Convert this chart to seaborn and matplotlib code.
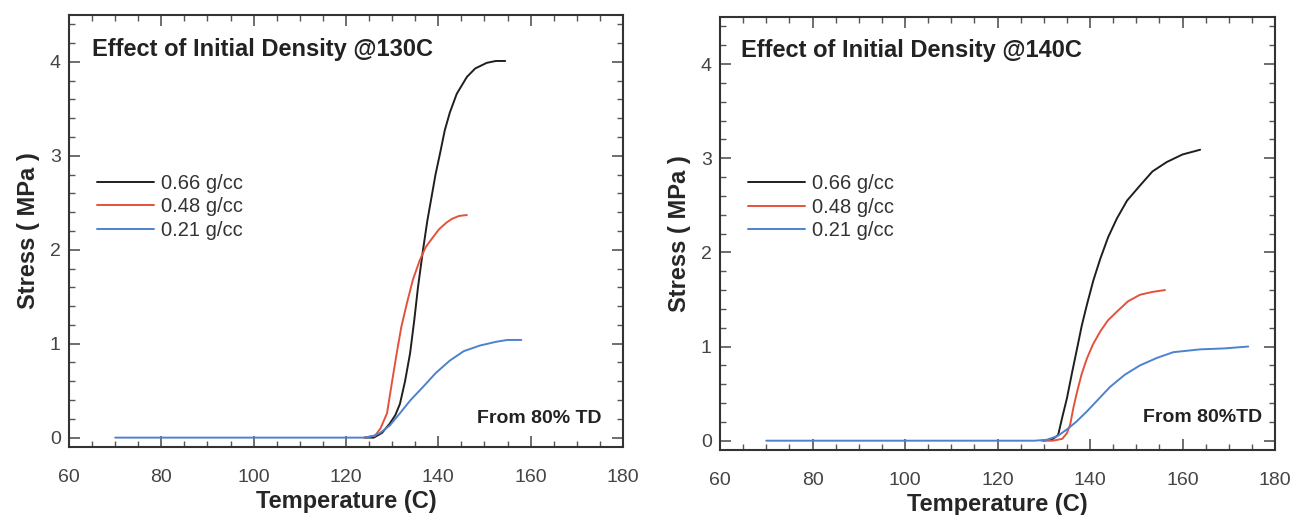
import pandas as pd
import seaborn as sns
import matplotlib.pyplot as plt
from matplotlib.ticker import MultipleLocator

# values
densities = ["0.66 g/cc", "0.48 g/cc", "0.21 g/cc"]
colors = ["#1f1f1f", "#e4523b", "#4d82cf"]

# @130C
t130_066 = [124, 126, 127.8, 129.5, 130.7, 131.7, 132.8, 133.9, 134.8, 135.6, 136.7, 137.6, 138.5, 139.4, 140.4,
            141.4, 142.5, 144.0, 146.2, 148.0, 150.5, 152.5, 154.5]
s130_066 = [0.0, 0.0, 0.05, 0.15, 0.24, 0.36, 0.60, 0.90, 1.25, 1.60, 2.00, 2.30, 2.55, 2.80, 3.03,
            3.27, 3.46, 3.66, 3.84, 3.93, 3.99, 4.01, 4.01]
t130_048 = [124, 126.3, 127.5, 128.9, 130.0, 131.0, 132.0, 133.2, 134.5, 136.0, 137.3, 138.8, 140.2, 141.8, 143.0,
            144.5, 146.2]
s130_048 = [0.0, 0.02, 0.10, 0.26, 0.60, 0.90, 1.18, 1.43, 1.68, 1.89, 2.03, 2.13, 2.22, 2.29, 2.33,
            2.36, 2.37]
t130_021 = [70, 90, 110, 124, 126, 127.4, 129.5, 131.7, 134.0, 136.7, 139.5, 142.5, 145.5, 149.0, 152.5, 155.0, 158.0]
s130_021 = [0.0, 0.0, 0.0, 0.0, 0.02, 0.05, 0.13, 0.26, 0.40, 0.54, 0.69, 0.82, 0.92, 0.98, 1.02, 1.04, 1.04]

# @140C
t140_066 = [130, 132.0, 133.1, 134.0, 135.0, 136.1, 137.2, 138.2, 139.3, 140.7, 142.2, 143.9, 145.8, 148.0, 150.8,
            153.5, 156.6, 160.0, 163.8]
s140_066 = [0.0, 0.02, 0.06, 0.25, 0.45, 0.72, 0.98, 1.22, 1.44, 1.70, 1.93, 2.16, 2.36, 2.55, 2.71,
            2.86, 2.96, 3.04, 3.09]
t140_048 = [129.5, 132, 134.0, 135.0, 135.7, 136.4, 137.2, 138.2, 139.3, 140.6, 142.2, 143.9, 145.8, 148.2, 150.8,
            153.5, 156.2]
s140_048 = [0.0, 0.0, 0.02, 0.08, 0.17, 0.35, 0.52, 0.71, 0.87, 1.02, 1.16, 1.28, 1.37, 1.48, 1.55,
            1.58, 1.60]
t140_021 = [70, 90, 110, 128, 130.7, 133.0, 135.0, 137.0, 139.3, 141.8, 144.3, 147.5, 150.8, 154.5, 158.0, 163.8,
            169.0, 174.2]
s140_021 = [0.0, 0.0, 0.0, 0.0, 0.01, 0.05, 0.12, 0.20, 0.31, 0.44, 0.57, 0.70, 0.80, 0.88, 0.94, 0.97,
            0.98, 1.00]

titles = ["Effect of Initial Density @130C", "Effect of Initial Density @140C"]
notes = ["From 80% TD", "From 80%TD"]


def make_frame(series):
    rows = []
    for label, temps, vals in series:
        for t, v in zip(temps, vals):
            rows.append({"density": label, "temperature": t, "stress": v})
    return pd.DataFrame(rows)


df130 = make_frame([(densities[0], t130_066, s130_066),
                    (densities[1], t130_048, s130_048),
                    (densities[2], t130_021, s130_021)])
df140 = make_frame([(densities[0], t140_066, s140_066),
                    (densities[1], t140_048, s140_048),
                    (densities[2], t140_021, s140_021)])

sns.set_style("ticks", {
    "xtick.direction": "in", "ytick.direction": "in",
    "xtick.bottom": True, "xtick.top": True,
    "ytick.left": True, "ytick.right": True,
})
plt.rcParams["font.family"] = ["Liberation Sans", "DejaVu Sans"]
plt.rcParams["xtick.minor.visible"] = True
plt.rcParams["ytick.minor.visible"] = True

fig = plt.figure(figsize=(12.95, 5.15), dpi=100)
ax1 = fig.add_axes([0.0533, 0.132, 0.4277, 0.839])
ax2 = fig.add_axes([0.556, 0.126, 0.4286, 0.841])

panels = [
    (ax1, df130, titles[0], notes[0], (0.0415, 0.905), (0.962, 0.056), 0.556),
    (ax2, df140, titles[1], notes[1], (0.038, 0.908), (0.977, 0.065), 0.561),
]

for ax, data, title, note, tpos, npos, ly in panels:
    sns.lineplot(data=data, x="temperature", y="stress", hue="density",
                 hue_order=densities, palette=colors, sort=False,
                 linewidth=1.4, ax=ax)
    ax.set_xlim(60, 180)
    ax.set_ylim(-0.1, 4.5)
    ax.xaxis.set_major_locator(MultipleLocator(20))
    ax.xaxis.set_minor_locator(MultipleLocator(5))
    ax.yaxis.set_major_locator(MultipleLocator(1))
    ax.yaxis.set_minor_locator(MultipleLocator(0.2))
    ax.tick_params(which="both", direction="in", bottom=True, left=True, top=True, right=True,
                   colors="#555555", labelcolor="#444444", labelsize=14)
    ax.tick_params(which="major", length=8, width=1.2)
    ax.tick_params(which="minor", length=4, width=1.0)
    ax.tick_params(axis="x", pad=16)
    ax.tick_params(axis="y", pad=6)
    for sp in ax.spines.values():
        sp.set_visible(True)
        sp.set_color("#333333")
        sp.set_linewidth(1.5)
    ax.set_xlabel("Temperature (C)", fontsize=17, fontweight="bold", labelpad=3)
    ax.set_ylabel("Stress ( MPa )", fontsize=17, fontweight="bold", labelpad=7)
    ax.text(tpos[0], tpos[1], title, transform=ax.transAxes, fontsize=17,
            fontweight="bold", color="#222222", va="baseline")
    ax.text(npos[0], npos[1], note, transform=ax.transAxes, fontsize=14,
            fontweight="bold", color="#222222", ha="right", va="baseline")
    leg = ax.legend(loc="center left", bbox_to_anchor=(0.018, ly), frameon=False,
                    fontsize=14.5, handlelength=2.8, labelspacing=0.22,
                    handletextpad=0.35)
    for txt in leg.get_texts():
        txt.set_color("#333333")

fig.savefig("out.png", dpi=100)
